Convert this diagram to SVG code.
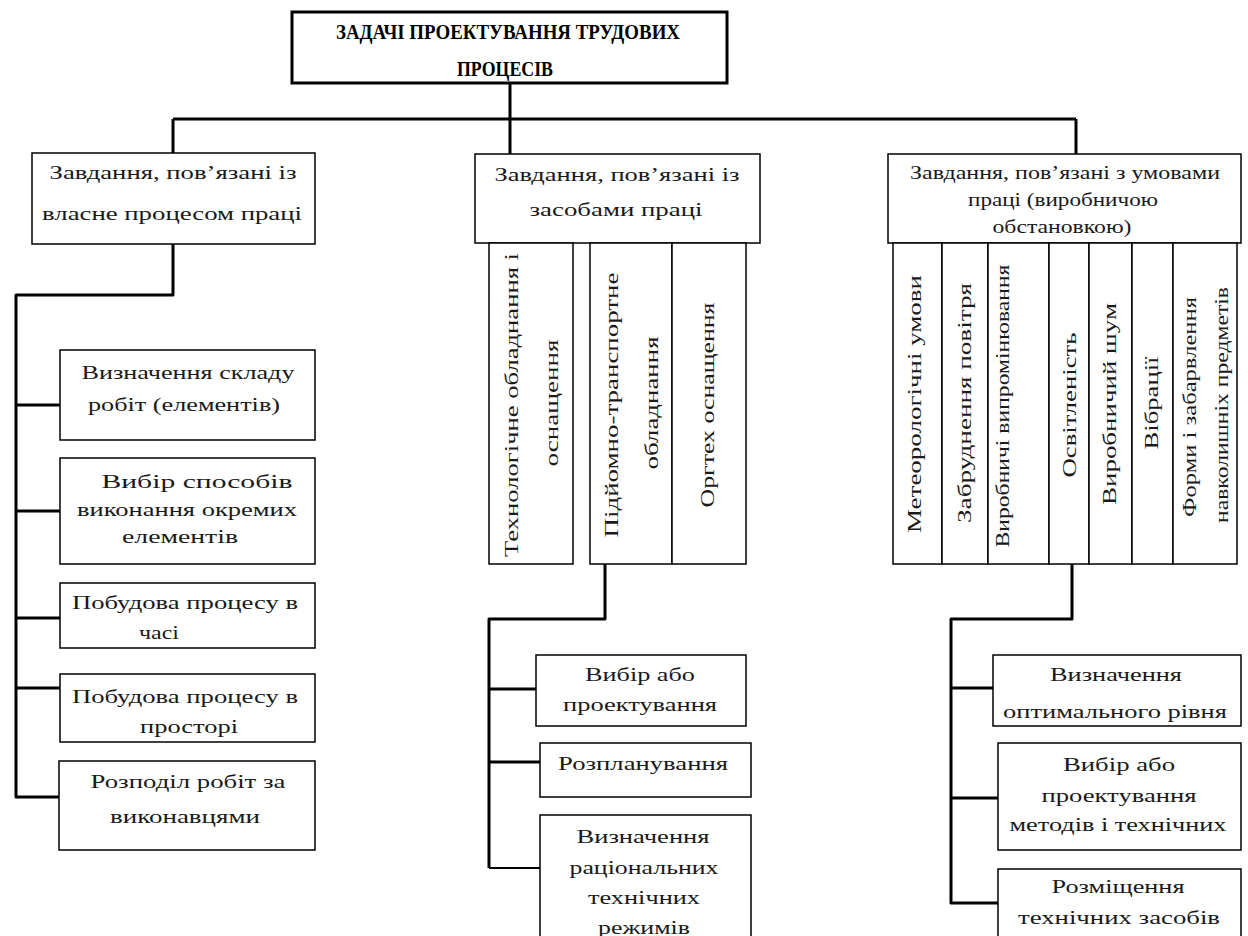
<svg xmlns="http://www.w3.org/2000/svg" width="1248" height="936" viewBox="0 0 1248 936" font-family="'Liberation Serif', 'DejaVu Serif', serif">
<style>
.bg{fill:#fff}
.box{fill:#fff;stroke:#000;stroke-width:1.5}
.tbox{fill:#fff;stroke:#000;stroke-width:3}
.con{fill:none;stroke:#000;stroke-width:3;stroke-linejoin:round}
.thin{fill:none;stroke:#000;stroke-width:2}
text{font-family:'Liberation Serif','DejaVu Serif',serif;font-size:19px;font-weight:normal;fill:#1a1a1a;text-anchor:middle}
text.title{font-weight:bold;font-size:20px;fill:#000}
</style>
<rect class="bg" x="0" y="0" width="1248" height="936"/>
<g id="connectors">
<path class="con" d="M510,83 V119"/>
<path class="con" d="M173,119 H1076"/>
<path class="con" d="M173,119 V153"/>
<path class="con" d="M510,119 V154"/>
<path class="con" d="M1076,119 V154"/>
<path class="con" d="M173,244 V295 H16 V797 H59"/>
<path class="con" d="M16,405 H60"/>
<path class="con" d="M16,511 H60"/>
<path class="con" d="M16,618 H60"/>
<path class="con" d="M16,688 H60"/>
<path class="con" d="M605,564 V619 H489 V868"/>
<path class="thin" d="M489,868 H540"/>
<path class="con" d="M489,689 H536"/>
<path class="con" d="M489,762 H540"/>
<path class="con" d="M1072,564 V619 H951 V903 H998"/>
<path class="con" d="M951,688 H993"/>
<path class="con" d="M951,798 H998"/>
</g>
<g id="title">
<rect class="tbox" x="292" y="12" width="435" height="71"/>
<text class="title" x="508" y="39" textLength="344" lengthAdjust="spacingAndGlyphs">ЗАДАЧІ ПРОЕКТУВАННЯ ТРУДОВИХ</text>
<text class="title" x="505" y="76" textLength="96" lengthAdjust="spacingAndGlyphs">ПРОЦЕСІВ</text>
</g>
<g id="process">
<rect class="box" x="32" y="153" width="283" height="91"/>
<text x="173" y="179" textLength="247" lengthAdjust="spacingAndGlyphs">Завдання, пов’язані із</text>
<text x="172" y="220" textLength="260" lengthAdjust="spacingAndGlyphs">власне процесом праці</text>
</g>
<g id="p1">
<rect class="box" x="60" y="350" width="255" height="90"/>
<text x="188" y="379" textLength="213" lengthAdjust="spacingAndGlyphs">Визначення складу</text>
<text x="184" y="411" textLength="192" lengthAdjust="spacingAndGlyphs">робіт (елементів)</text>
</g>
<g id="p2">
<rect class="box" x="60" y="458" width="255" height="106"/>
<text x="197" y="488" textLength="191" lengthAdjust="spacingAndGlyphs">Вибір способів</text>
<text x="187" y="516" textLength="220" lengthAdjust="spacingAndGlyphs">виконання окремих</text>
<text x="180" y="543" textLength="116" lengthAdjust="spacingAndGlyphs">елементів</text>
</g>
<g id="p3">
<rect class="box" x="60" y="583" width="255" height="65"/>
<text x="185" y="609" textLength="226" lengthAdjust="spacingAndGlyphs">Побудова процесу в</text>
<text x="159" y="639" textLength="40" lengthAdjust="spacingAndGlyphs">часі</text>
</g>
<g id="p4">
<rect class="box" x="60" y="674" width="255" height="68"/>
<text x="185" y="703" textLength="226" lengthAdjust="spacingAndGlyphs">Побудова процесу в</text>
<text x="189" y="733" textLength="98" lengthAdjust="spacingAndGlyphs">просторі</text>
</g>
<g id="p5">
<rect class="box" x="59" y="761" width="256" height="89"/>
<text x="188" y="788" textLength="195" lengthAdjust="spacingAndGlyphs">Розподіл робіт за</text>
<text x="185" y="823" textLength="150" lengthAdjust="spacingAndGlyphs">виконавцями</text>
</g>
<g id="means">
<rect class="box" x="475" y="154" width="285" height="89"/>
<text x="617" y="181" textLength="245" lengthAdjust="spacingAndGlyphs">Завдання, пов’язані із</text>
<text x="616" y="216" textLength="173" lengthAdjust="spacingAndGlyphs">засобами праці</text>
</g>
<g id="m-col1">
<rect class="box" x="489" y="243" width="84" height="321"/>
<text transform="translate(518,405) rotate(-90)" textLength="304" lengthAdjust="spacingAndGlyphs">Технологічне обладнання і</text>
<text transform="translate(558,403) rotate(-90)" textLength="127" lengthAdjust="spacingAndGlyphs">оснащення</text>
</g>
<g id="m-col2">
<rect class="box" x="590" y="243" width="82" height="321"/>
<text transform="translate(618,405) rotate(-90)" textLength="265" lengthAdjust="spacingAndGlyphs">Підйомно-транспортне</text>
<text transform="translate(658,403) rotate(-90)" textLength="133" lengthAdjust="spacingAndGlyphs">обладнання</text>
</g>
<g id="m-col3">
<rect class="box" x="672" y="243" width="74" height="321"/>
<text transform="translate(714,405) rotate(-90)" textLength="205" lengthAdjust="spacingAndGlyphs">Оргтех оснащення</text>
</g>
<g id="m1">
<rect class="box" x="536" y="655" width="210" height="71"/>
<text x="640" y="681" textLength="110" lengthAdjust="spacingAndGlyphs">Вибір або</text>
<text x="640" y="711" textLength="154" lengthAdjust="spacingAndGlyphs">проектування</text>
</g>
<g id="m2">
<rect class="box" x="540" y="743" width="211" height="54"/>
<text x="643" y="770" textLength="170" lengthAdjust="spacingAndGlyphs">Розпланування</text>
</g>
<g id="m3">
<rect class="box" x="540" y="815" width="211" height="130"/>
<text x="643" y="843" textLength="133" lengthAdjust="spacingAndGlyphs">Визначення</text>
<text x="644" y="874" textLength="149" lengthAdjust="spacingAndGlyphs">раціональних</text>
<text x="644" y="904" textLength="112" lengthAdjust="spacingAndGlyphs">технічних</text>
<text x="644" y="934" textLength="92" lengthAdjust="spacingAndGlyphs">режимів</text>
</g>
<g id="conditions">
<rect class="box" x="888" y="154" width="353" height="89"/>
<text x="1065" y="179" textLength="310" lengthAdjust="spacingAndGlyphs">Завдання, пов’язані з умовами</text>
<text x="1063" y="206" textLength="190" lengthAdjust="spacingAndGlyphs">праці (виробничою</text>
<text x="1062" y="233" textLength="139" lengthAdjust="spacingAndGlyphs">обстановкою)</text>
</g>
<g id="c1">
<rect class="box" x="893" y="243" width="49" height="321"/>
<text transform="translate(921,404) rotate(-90)" textLength="258" lengthAdjust="spacingAndGlyphs">Метеорологічні умови</text>
</g>
<g id="c2">
<rect class="box" x="942" y="243" width="46" height="321"/>
<text transform="translate(971,403) rotate(-90)" textLength="240" lengthAdjust="spacingAndGlyphs">Забруднення повітря</text>
</g>
<g id="c3">
<rect class="box" x="988" y="243" width="61" height="321"/>
<text transform="translate(1009,406) rotate(-90)" textLength="283" lengthAdjust="spacingAndGlyphs">Виробничі випромінювання</text>
</g>
<g id="c4">
<rect class="box" x="1049" y="243" width="40" height="321"/>
<text transform="translate(1076,405) rotate(-90)" textLength="145" lengthAdjust="spacingAndGlyphs">Освітленість</text>
</g>
<g id="c5">
<rect class="box" x="1089" y="243" width="43" height="321"/>
<text transform="translate(1116,404) rotate(-90)" textLength="202" lengthAdjust="spacingAndGlyphs">Виробничий шум</text>
</g>
<g id="c6">
<rect class="box" x="1132" y="243" width="41" height="321"/>
<text transform="translate(1158,403) rotate(-90)" textLength="93" lengthAdjust="spacingAndGlyphs">Вібрації</text>
</g>
<g id="c7">
<rect class="box" x="1173" y="243" width="64" height="321"/>
<text transform="translate(1196,407) rotate(-90)" textLength="220" lengthAdjust="spacingAndGlyphs">Форми і забарвлення</text>
<text transform="translate(1228,405) rotate(-90)" textLength="236" lengthAdjust="spacingAndGlyphs">навколишніх предметів</text>
</g>
<g id="r1">
<rect class="box" x="993" y="655" width="248" height="71"/>
<text x="1116" y="681" textLength="132" lengthAdjust="spacingAndGlyphs">Визначення</text>
<text x="1115" y="718" textLength="224" lengthAdjust="spacingAndGlyphs">оптимального рівня</text>
</g>
<g id="r2">
<rect class="box" x="998" y="743" width="243" height="107"/>
<text x="1119" y="771" textLength="112" lengthAdjust="spacingAndGlyphs">Вибір або</text>
<text x="1119" y="802" textLength="155" lengthAdjust="spacingAndGlyphs">проектування</text>
<text x="1118" y="831" textLength="217" lengthAdjust="spacingAndGlyphs">методів і технічних</text>
</g>
<g id="r3">
<rect class="box" x="998" y="869" width="243" height="80"/>
<text x="1118" y="893" textLength="133" lengthAdjust="spacingAndGlyphs">Розміщення</text>
<text x="1119" y="924" textLength="202" lengthAdjust="spacingAndGlyphs">технічних засобів</text>
</g>
</svg>
